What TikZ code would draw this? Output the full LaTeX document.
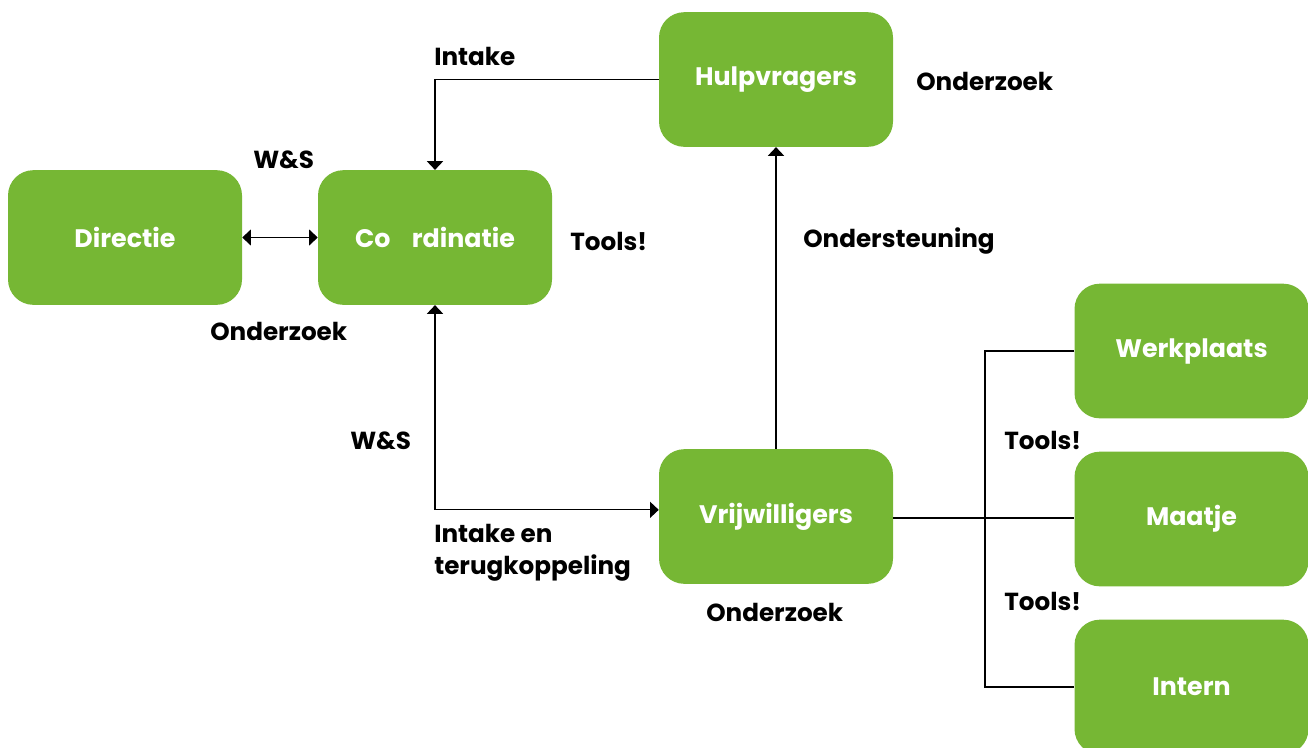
\documentclass[tikz,border=0pt]{standalone}
\usepackage{fontspec}
\setmainfont{Poppins}
\usepackage{tikz}
\usetikzlibrary{arrows.meta}
\definecolor{boxgreen}{RGB}{118,183,52}

\tikzset{
  box/.style={fill=boxgreen,rounded corners=19pt,minimum width=175.5pt,
    minimum height=101pt,inner sep=0,text=white,font=\fontsize{19}{22}\selectfont\bfseries},
  lbl/.style={font=\fontsize{18.5}{24}\selectfont\bfseries,inner sep=0},
  tip/.tip={Triangle[width=12pt,length=6.5pt]},
  link/.style={line width=0.9pt,-tip},
}

\begin{document}
\begin{tikzpicture}[x=0.75pt,y=-0.75pt]%
\useasboundingbox (0,0) rectangle (1308,747);
\node[box] (dir) at (125,237.5) {\raisebox{-2pt}{Directie}};
\node[box] (coo) at (435,237.5) {\raisebox{-2pt}{Co\hspace{16pt}rdinatie}};
\node[box] (hulp) at (776,79.5) {\raisebox{-2pt}{Hulpvragers}};
\node[box] (vrij) at (776,516.5) {\raisebox{-2pt}{Vrijwilligers}};
\node[box] (werk) at (1191.5,351) {\raisebox{-2pt}{Werkplaats}};
\node[box] (maat) at (1191.5,519) {\raisebox{-2pt}{Maatje}};
\node[box] (intern) at (1191.5,687) {\raisebox{-2pt}{Intern}};
\coordinate (split) at (985,518);
% arrows between the boxes
\draw[link,tip-tip] (dir) -- (coo);
\draw[link] (hulp.west) -| (coo.north);
\draw[link,tip-tip] (coo.south) |- ([yshift=5pt]vrij.west);
\draw[link] (vrij.north) -- (hulp.south);
\draw[line width=0.9pt] (vrij.east|-split) -- (maat.west|-split);
\draw[line width=0.9pt] (werk.west) -| (split) |- (intern.west);
% labels
\node[lbl,anchor=west] (l1) at (434,56) {Intake};
\node[lbl,anchor=west] (l2) at (253,160) {W\&S};
\node[lbl,anchor=west] (l3) at (570,241) {Tools!};
\node[lbl,anchor=west] (l4) at (210,331) {Onderzoek};
\node[lbl,anchor=west] (l5) at (916,81) {Onderzoek};
\node[lbl,anchor=west] (l6) at (803,241) {Ondersteuning};
\node[lbl,anchor=west] (l7) at (350,441) {W\&S};
\node[lbl,anchor=west,align=left] (l8) at (434,553) {Intake en\\terugkoppeling};
\node[lbl,anchor=west] (l9) at (706,612) {Onderzoek};
\node[lbl,anchor=west] (l10) at (1004,440) {Tools!};
\node[lbl,anchor=west] (l11) at (1004,601) {Tools!};
\end{tikzpicture}
\end{document}
